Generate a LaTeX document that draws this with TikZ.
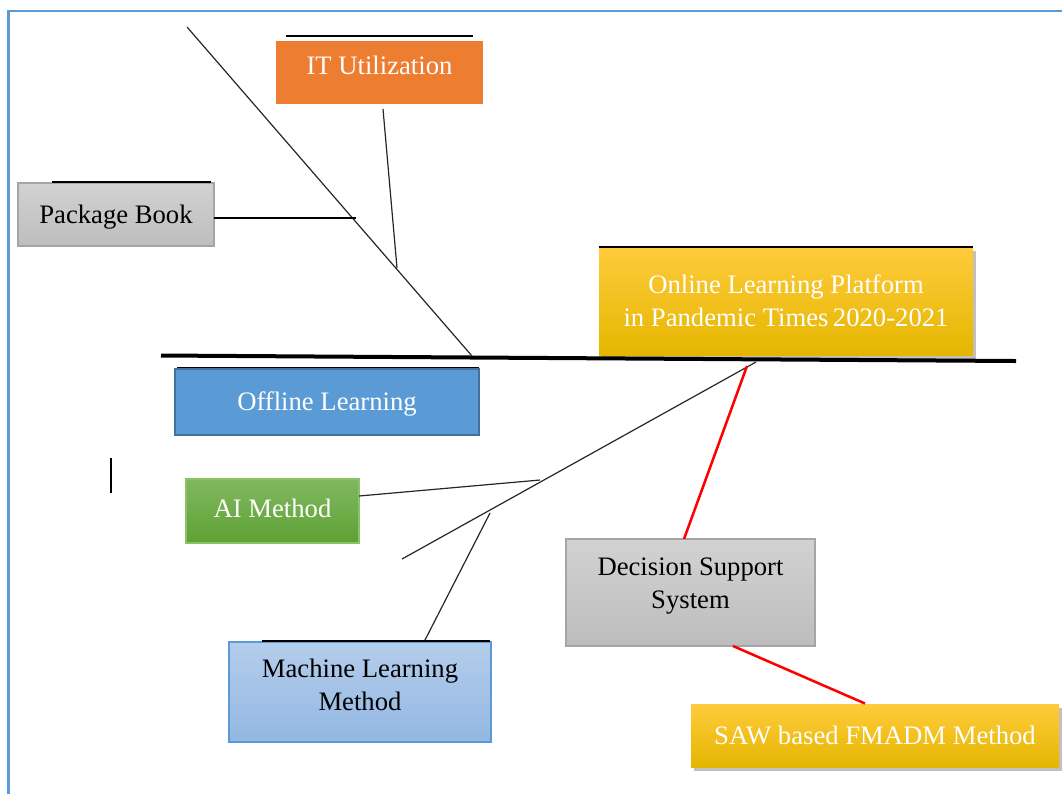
\documentclass[tikz,border=0pt]{standalone}
\usepackage{fontspec}
\setmainfont{Liberation Serif}
\usetikzlibrary{shadows}
\definecolor{frameblue}{HTML}{5B9BD5}
\definecolor{itorange}{HTML}{ED7D31}
\definecolor{goldtop}{HTML}{FFCB3C}
\definecolor{goldmid}{HTML}{FFC000}
\definecolor{goldbot}{HTML}{E5B600}
\definecolor{graytop}{HTML}{D2D2D2}
\definecolor{graybot}{HTML}{BDBDBD}
\definecolor{grayline}{HTML}{A5A5A5}
\definecolor{offblue}{HTML}{5B9BD5}
\definecolor{offline}{HTML}{41719C}
\definecolor{greentop}{HTML}{80B861}
\definecolor{greenmid}{HTML}{6CAE45}
\definecolor{greenbot}{HTML}{5FA134}
\definecolor{greenline}{HTML}{8CC168}
\definecolor{mltop}{HTML}{B4CDEB}
\definecolor{mlbot}{HTML}{93B7E3}
\definecolor{redline}{HTML}{FF0000}
\tikzset{
  box/.style={rectangle, inner sep=0pt, align=center, font=\fontsize{20}{25}\selectfont},
  one/.style={text height=14pt, text depth=#1},
  graybox/.style={box, draw=grayline, line width=0.8pt, top color=graytop, bottom color=graybot, text=black},
  goldbox/.style={box, top color=goldtop, middle color=goldmid, bottom color=goldbot, text=white,
    drop shadow={shadow xshift=2.5pt, shadow yshift=-3pt, fill=black!55, opacity=0.45}},
  thinline/.style={draw=black!85, line width=0.9pt},
  topline/.style={draw=black, line width=1.2pt},
  redconn/.style={draw=redline, line width=1.9pt},
  spine/.style={draw=black, line width=3pt},
  framel/.style={draw=frameblue, line width=1.9pt}
}
\begin{document}
\begin{tikzpicture}[x=0.75pt,y=-0.75pt]
\useasboundingbox (0,0) rectangle (1062,794);
% frame
\coordinate (fA) at (8.5,794);
\coordinate (fB) at (8.5,11);
\coordinate (fC) at (1062,11);
\draw[framel] (fA) -- (fB) -- (fC);

% boxes
\node[box, one=10.4pt, fill=itorange, text=white, minimum width=155.25pt, minimum height=47.25pt] (it) at (379.5,72.5) {IT Utilization};
\node[graybox, one=0.6pt, minimum width=147pt, minimum height=47.25pt] (pb) at (116,214.5) {Package Book};
\node[goldbox, minimum width=280.5pt, minimum height=81pt] (olp) at (786,301) {Online Learning Platform\\in Pandemic Times\,2020-2021};
\node[box, one=0.6pt, draw=offline, line width=1.5pt, fill=offblue, text=white, minimum width=228pt, minimum height=49.5pt] (off) at (327,402) {Offline Learning};
\node[box, one=3.6pt, draw=greenline, line width=0.8pt, top color=greentop, middle color=greenmid, bottom color=greenbot, text=white, minimum width=129.75pt, minimum height=48pt] (ai) at (272.5,511) {AI Method};
\node[graybox, minimum width=186.75pt, minimum height=80.25pt, text depth=14pt] (dss) at (690.5,592.5) {Decision Support\\System};
\node[box, draw=frameblue, line width=0.8pt, top color=mltop, bottom color=mlbot, text=black, minimum width=196.5pt, minimum height=75pt, text depth=11pt] (ml) at (360,692) {Machine Learning\\Method};
\node[goldbox, one=0.6pt, minimum width=276pt, minimum height=47.25pt] (saw) at (875,735.5) {SAW based FMADM Method};

% thin lines above boxes
\coordinate (itL1) at (286,36); \coordinate (itL2) at (473,36);
\draw[topline] (itL1) -- (itL2);
\coordinate (pbL1) at (52,182); \coordinate (pbL2) at (211,182);
\draw[topline, line width=0.8pt] (pbL1) -- (pbL2);
\draw[topline] (olp.north west) -- (olp.north east);
\coordinate (offL1) at (177,367.5); \coordinate (offL2) at (479,367.5);
\draw[topline] (offL1) -- (offL2);
\coordinate (mlL1) at (262,641); \coordinate (mlL2) at (490,641);
\draw[topline] (mlL1) -- (mlL2);

% spine
\coordinate (sL) at (161,355.5);
\coordinate (sR) at (1016,361);
\draw[spine] (sL) -- (sR);

% upper bone
\coordinate (uTop) at (187,27);
\coordinate (uJ) at (472,356);
\draw[thinline] (uTop) -- (uJ);
\coordinate (pbA) at (214,218);
\coordinate (pbJ) at (356,218);
\draw[thinline, draw=black, line width=1pt] (pbA) -- (pbJ);
\coordinate (itA) at (383,109);
\coordinate (itJ) at (397,268);
\draw[thinline] (itA) -- (itJ);

% lower bone
\coordinate (lTop) at (756,362);
\coordinate (lEnd) at (402,559);
\draw[thinline] (lTop) -- (lEnd);
\coordinate (aiA) at (359,496);
\coordinate (aiJ) at (540,480);
\draw[thinline] (aiA) -- (aiJ);
\coordinate (mlJ) at (490,513);
\coordinate (mlA) at (425,640);
\draw[thinline] (mlJ) -- (mlA);

% red connectors
\coordinate (rTop) at (747,366);
\coordinate (dssT) at (684,539);
\draw[redconn] (rTop) -- (dssT);
\coordinate (dssB) at (733,646);
\coordinate (sawT) at (865,703.5);
\draw[redconn] (dssB) -- (sawT);

% short vertical mark
\coordinate (vA) at (111,458);
\coordinate (vB) at (111,493);
\draw[draw=black, line width=1.5pt] (vA) -- (vB);
\end{tikzpicture}
\end{document}
